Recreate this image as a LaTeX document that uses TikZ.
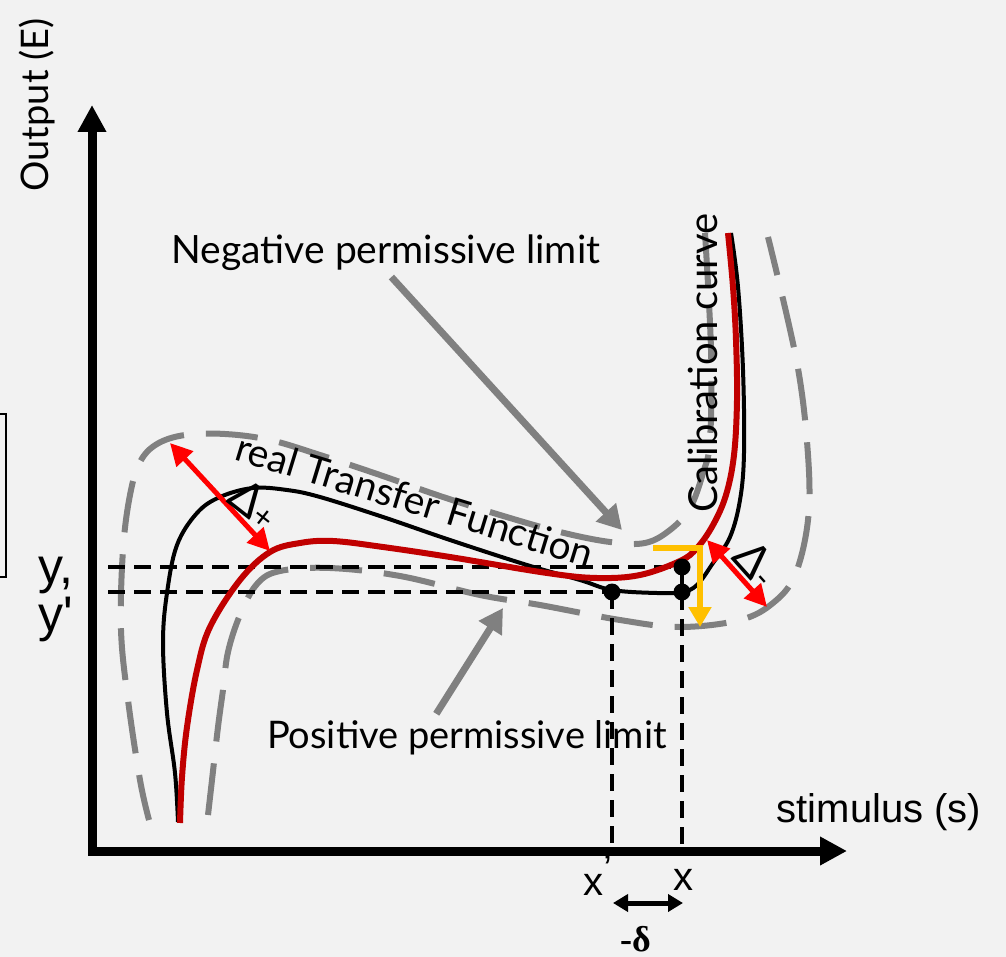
\documentclass[tikz,border=0pt]{standalone}
\usepackage{fontspec}
\setmainfont{Lato}
\newfontfamily\arialf{Liberation Sans}
\newfontfamily\timesf{Liberation Serif}
\usepackage{tikz}
\usetikzlibrary{arrows.meta,positioning}
\definecolor{bgcol}{HTML}{F2F2F2}
\definecolor{calred}{HTML}{C00000}
\definecolor{limgray}{HTML}{808080}
\definecolor{shiftyel}{HTML}{FFC000}
\newcommand{\fsz}[1]{\fontsize{#1}{#1}\selectfont}

\begin{document}
\begin{tikzpicture}[x=1pt, y=-1pt,
  axis/.style={line width=9pt, line cap=rect, -{Triangle[length=27pt,width=27pt]}},
  limit/.style={limgray, line width=6pt, dash pattern=on 52pt off 22pt},
  guide/.style={line width=3.5pt, dash pattern=on 17pt off 9pt},
  pointer/.style={limgray, line width=7pt, -{Triangle[length=24pt,width=26pt]}},
  dev/.style={red, line width=5pt, {Triangle[length=22pt,width=22pt]}-{Triangle[length=22pt,width=22pt]}},
  lbl/.style={inner sep=0pt, font=\fsz{38}},
  ]
  % background and margins
  \fill[bgcol] (0,0) rectangle (1006,957);
  \useasboundingbox (0,0) rectangle (1006,957);
  \draw[line width=1.5pt] (-10,414) rectangle (6,577);

  % permissive limits
  \draw[limit] plot[smooth, tension=0.6] coordinates {(705,233) (711,350) (710,440) (703,473) (690,508) (670,530) (645,543) (610,542) (560,532) (500,515) (440,496) (380,475) (320,455) (270,440) (225,434) (185,435) (157,444) (140,462) (130,495) (123,550) (121,630) (128,700) (140,780) (149,820)};
  \draw[limit] plot[smooth, tension=0.6] coordinates {(208,815) (212,780) (218,727) (223,690) (228,652) (240,615) (257,584) (280,571) (330,568) (400,576) (480,595) (540,605) (620,620) (680,627) (740,620) (773,603) (795,575) (808,520) (808,455) (797,363) (768,237)};

  % y / y' and x / x' guides
  \coordinate (py) at (682,567);
  \coordinate (pyx) at (682,592);
  \coordinate (pxp) at (612,592);
  \coordinate (gy) at (108,567);
  \coordinate (gyp) at (108,592);
  \coordinate (fx) at (682,852);
  \coordinate (fxp) at (612,852);
  \draw[guide] (gy) -- (py);
  \draw[guide] (gyp) -- (pxp);
  \draw[guide] (py) -- (fx);
  \draw[guide] (pxp) -- (fxp);

  % real transfer function
  \draw[line width=4pt] plot[smooth, tension=0.6] coordinates {(178,822) (175,773) (167,713) (163,643) (167,593) (177,545) (197,513) (220,497) (253,488) (287,490) (320,497) (383,517) (450,540) (527,565) (580,580) (612,590) (657,593) (682,592) (697,585) (713,563) (730,537) (740,500) (744,453) (743,370) (738,287) (731,233)};
  % calibration curve
  \draw[calred, line width=6pt] plot[smooth, tension=0.6] coordinates {(180,823) (182,777) (187,727) (197,670) (210,627) (240,580) (270,552) (300,543) (333,541) (383,547) (450,557) (547,573) (597,578) (640,575) (680,561) (697,548) (713,525) (726,495) (734,455) (737,400) (736,340) (733,287) (728,233)};

  \fill (py) circle (8.5pt);
  \fill (pyx) circle (8.5pt);
  \fill (pxp) circle (8.5pt);

  % axes
  \coordinate (O) at (92,851);
  \coordinate (ytip) at (92,105);
  \coordinate (xtip) at (847,851);
  \draw[axis] (O) -- (ytip);
  \draw[axis] (O) -- (xtip);

  % deviations
  \coordinate (dpa) at (170,443);
  \coordinate (dpb) at (270,551);
  \coordinate (dma) at (707,540);
  \coordinate (dmb) at (767,607);
  \draw[dev] (dpa) -- (dpb);
  \draw[dev] (dma) -- (dmb);

  % shift of the output
  \coordinate (ys) at (653,548);
  \coordinate (ye) at (700,627);
  \draw[shiftyel, line width=6pt, -{Triangle[length=20pt,width=22pt]}] (ys) -| (ye);

  % delta between x and x'
  \coordinate (da) at (613,903);
  \coordinate (db) at (683,903);
  \draw[line width=5pt, {Triangle[length=15pt,width=17pt]}-{Triangle[length=15pt,width=17pt]}] (da) -- (db);

  % labels
  \node[lbl, rotate=90] (ylab) at (37,105) {Output (E)};
  \node[lbl, font=\arialf\fsz{40}] (xlab) at (879,812) {stimulus (s)};
  \node[lbl, font=\fsz{39}] (neglbl) at (386,253) {Negative permissive limit};
  \node[lbl] (poslbl) at (467,738) {Positive permissive limit};
  \node[lbl, font=\fsz{39}, rotate=-17] (rtflbl) at (415,500) {real Transfer Function};
  \node[lbl, font=\fsz{40}, rotate=90] (callbl) at (703,363) {Calibration curve};
  \node[lbl, font=\fsz{46}, rotate=-38] (dplbl) at (255,504) {Δ{\fsz{32}+}};
  \node[lbl, font=\fsz{46}, rotate=-48] (dmlbl) at (757,563) {Δ{\fsz{32}-}};
  \node[lbl, font=\arialf\fsz{50}, anchor=base west] (ylbl) at (38,583) {y,};
  \node[lbl, font=\arialf\fsz{50}, anchor=base west] (yplbl) at (38,631) {y'};
  \node[lbl, font=\arialf\fsz{40}, anchor=base west] (xplbl) at (583,895) {x\raisebox{13pt}{’}};
  \node[lbl, font=\arialf\fsz{40}, anchor=base west] (xlbl) at (673,890) {x};
  \node[lbl, font=\timesf\bfseries\fsz{36}, anchor=base west, text depth=0pt] (dlbl) at (620,951) {-δ};

  \draw[pointer, shorten <=8pt] (neglbl.south) -- (622,530);
  \draw[pointer, shorten <=8pt] ([xshift=-35pt]poslbl.north) -- (503,608);
\end{tikzpicture}
\end{document}
